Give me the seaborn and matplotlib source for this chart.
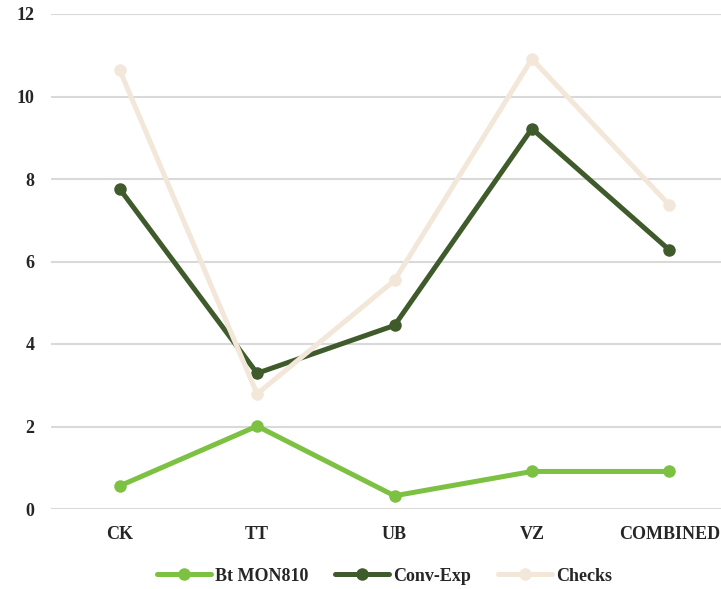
import pandas as pd
import seaborn as sns
import matplotlib.pyplot as plt

sites = ["CK", "TT", "UB", "VZ", "COMBINED"]
bt_mon810 = [0.56, 2.01, 0.32, 0.91, 0.91]
conv_exp = [7.76, 3.29, 4.45, 9.22, 6.28]
checks = [10.64, 2.79, 5.54, 10.91, 7.37]

series = ["Bt MON810", "Conv-Exp", "Checks"]
colors = ["#7CC142", "#3F5A2B", "#F2E7D9"]

df = pd.DataFrame({
    "site": sites * 3,
    "value": bt_mon810 + conv_exp + checks,
    "group": [s for s in series for _ in sites],
})

sns.set_style("white")
plt.rcParams["font.family"] = ["Liberation Serif", "DejaVu Serif"]
plt.rcParams["font.weight"] = "bold"

fig = plt.figure(figsize=(7.21, 5.89), dpi=100)
ax = fig.add_axes([51 / 721, 80 / 589, 687 / 721, 495 / 589])

sns.lineplot(data=df, x="site", y="value", hue="group", hue_order=series,
             palette=colors, marker="o", markersize=9, markeredgewidth=0,
             linewidth=3.6, sort=False, ax=ax, legend=True)

ax.set_ylim(0, 12)
ax.set_xlim(-0.5, 4.5)
ax.set_yticks(range(0, 13, 2))
ax.yaxis.grid(True, color="#D9D9D9", linewidth=1.5)
ax.set_axisbelow(True)
for s in ax.spines.values():
    s.set_visible(False)
ax.tick_params(axis="both", length=0, labelsize=13)
ax.tick_params(axis="x", pad=12)
ax.tick_params(axis="y", pad=12)
for lbl in ax.get_xticklabels() + ax.get_yticklabels():
    lbl.set_fontweight("bold")
ax.set_xlabel("")
ax.set_ylabel("")

handles, labels = ax.get_legend_handles_labels()
ax.get_legend().remove()
fig.legend(handles, labels, loc="center", bbox_to_anchor=(0.533, 0.022),
           ncol=3, frameon=False, handlelength=3.0, handletextpad=0.2,
           columnspacing=1.5, prop={"weight": "bold", "size": 13})

fig.savefig("out.png", dpi=100)
